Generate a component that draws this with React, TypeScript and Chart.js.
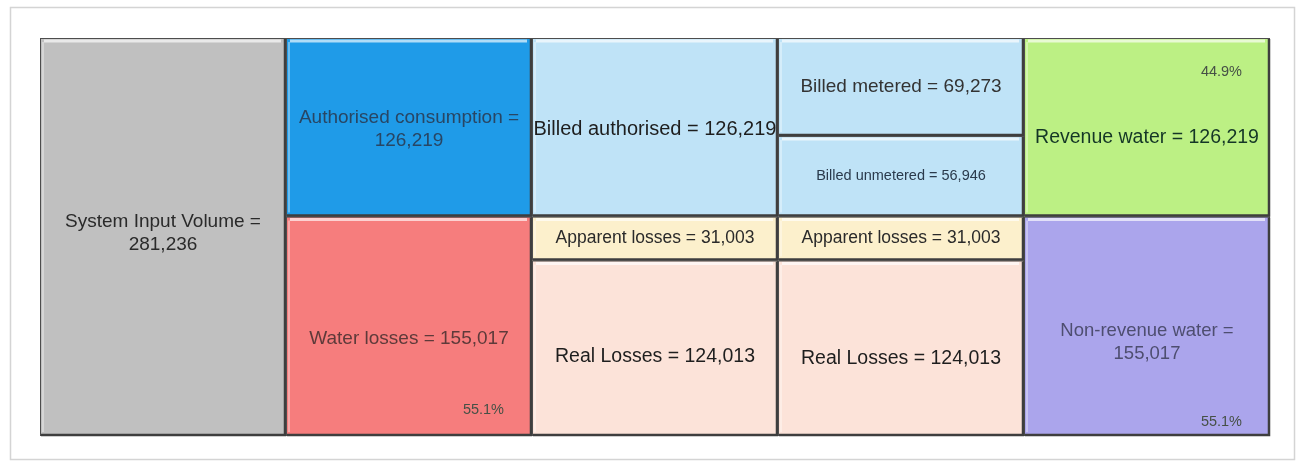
import React, { useEffect, useRef } from 'react';
import { Chart, registerables } from 'chart.js';

Chart.register(...registerables);

// ---- data ----
const categories = ['System input', 'Consumption / losses', 'Billing level 1', 'Billing level 2', 'Revenue'];
const TOTAL_INPUT = 281236;
const levelA: (number | null)[] = [281236, 126219, 126219, 69273, 126219];
const levelB: (number | null)[] = [null, 155017, 31003, 56946, 155017];
const levelC: (number | null)[] = [null, null, 124013, 31003, null];
const levelD: (number | null)[] = [null, null, null, 124013, null];

const labelsA = ['System Input Volume =\n281,236', 'Authorised consumption =\n126,219', 'Billed authorised = 126,219', 'Billed metered = 69,273', 'Revenue water = 126,219'];
const labelsB = ['', 'Water losses = 155,017', 'Apparent losses = 31,003', 'Billed unmetered = 56,946', 'Non-revenue water =\n155,017'];
const labelsC = ['', '', 'Real Losses = 124,013', 'Apparent losses = 31,003', ''];
const labelsD = ['', '', '', 'Real Losses = 124,013', ''];

const pctA = ['', '', '', '', '44.9%'];
const pctB = ['', '55.1%', '', '', '55.1%'];

// ---- styles ----
const colorsA = ['#c0c0c0', '#1f9be8', '#bfe3f7', '#bfe3f7', '#bcf084'];
const colorsB = ['#ffffff', '#f67d7d', '#fcf0cc', '#bfe3f7', '#aba5ec'];
const colorsC = ['#ffffff', '#ffffff', '#fce3d9', '#fcf0cc', '#ffffff'];
const colorsD = ['#ffffff', '#ffffff', '#ffffff', '#fce3d9', '#ffffff'];

const fontA = [19, 19, 20, 19, 19.5];
const fontB = [16, 19, 17.5, 14.5, 18.5];
const fontC = [16, 16, 19.5, 17.5, 16];
const fontD = [16, 16, 16, 19.5, 16];

const textA = ['#2a2a2a', '#284664', '#1e1e1e', '#333333', '#143626'];
const textB = ['#333333', '#5e3a3a', '#2a2a2a', '#2a3a4c', '#4e4e70'];
const textC = ['#333333', '#333333', '#1e1e1e', '#2a2a2a', '#333333'];
const textD = ['#333333', '#333333', '#333333', '#1e1e1e', '#333333'];

const shiftA = [-4, 2, 2, 0, 10];
const shiftB = [0, 12, 0, 0, 16];
const shiftC = [0, 0, 8, 0, 0];
const shiftD = [0, 0, 0, 10, 0];

const FONT = "Arial, 'Liberation Sans', sans-serif";

const boxPlugin = {
  id: 'boxPlugin',
  beforeDraw(chart: any) {
    const ctx = chart.ctx;
    ctx.save();
    ctx.fillStyle = '#ffffff';
    ctx.fillRect(0, 0, chart.width, chart.height);
    ctx.strokeStyle = '#d4d4d4';
    ctx.lineWidth = 1.5;
    ctx.strokeRect(10.5, 7.5, 1284, 452);
    ctx.restore();
  },
  afterDatasetsDraw(chart: any) {
    const ctx = chart.ctx;
    chart.data.datasets.forEach((ds: any, di: number) => {
      const meta = chart.getDatasetMeta(di);
      meta.data.forEach((el: any, i: number) => {
        const v = ds.data[i];
        if (v == null) return;
        const p = el.getProps(['x', 'y', 'base', 'width'], true);
        const top = Math.min(p.y, p.base);
        const bottom = Math.max(p.y, p.base);
        const left = p.x - p.width / 2;
        const right = p.x + p.width / 2;
        ctx.save();
        // bevel highlight
        ctx.strokeStyle = 'rgba(255,255,255,0.65)';
        ctx.lineWidth = 3;
        ctx.beginPath();
        ctx.moveTo(left + 4, top + 3);
        ctx.lineTo(right - 5, top + 3);
        ctx.stroke();
        ctx.strokeStyle = 'rgba(255,255,255,0.35)';
        ctx.lineWidth = 2;
        ctx.beginPath();
        ctx.moveTo(left + 3, top + 4);
        ctx.lineTo(left + 3, bottom - 4);
        ctx.stroke();
        // dark edges
        ctx.strokeStyle = '#4d4d4d';
        ctx.lineWidth = 1;
        ctx.strokeRect(left + 0.5, top + 0.5, right - left - 1, bottom - top - 1);
        ctx.strokeStyle = '#3e3e3e';
        ctx.lineWidth = 2.5;
        ctx.beginPath();
        ctx.moveTo(left + 1, bottom - 1);
        ctx.lineTo(right - 1, bottom - 1);
        ctx.lineTo(right - 1, top + 1);
        ctx.stroke();
        // label
        const label: string = ds.boxLabels[i];
        if (label) {
          const size = ds.boxFont[i];
          ctx.font = `${size}px ${FONT}`;
          ctx.fillStyle = ds.boxText[i];
          ctx.textAlign = 'center';
          ctx.textBaseline = 'middle';
          const lines = label.split('\n');
          const lh = size * 1.2;
          const cy = (top + bottom) / 2 + ds.boxShift[i];
          lines.forEach((ln, k) => {
            ctx.fillText(ln, p.x, cy + (k - (lines.length - 1) / 2) * lh);
          });
        }
        const pct: string = ds.boxPct[i];
        if (pct) {
          ctx.font = `14.5px ${FONT}`;
          ctx.fillStyle = '#465046';
          ctx.textAlign = 'right';
          ctx.textBaseline = 'middle';
          const py = ds.pctAtTop ? top + 34 : bottom - (i === 1 ? 26 : 14);
          ctx.fillText(pct, right - 28, py);
        }
        ctx.restore();
      });
    });
  },
};

export default function App() {
  const ref = useRef<HTMLCanvasElement | null>(null);
  useEffect(() => {
    if (!ref.current) return;
    const mk = (data: any, colors: string[], labels: string[], fonts: number[], texts: string[], shifts: number[], pct: string[], pctAtTop: boolean) => ({
      data,
      backgroundColor: colors,
      borderWidth: 0,
      barPercentage: 1,
      categoryPercentage: 1,
      boxLabels: labels,
      boxFont: fonts,
      boxText: texts,
      boxShift: shifts,
      boxPct: pct,
      pctAtTop,
    });
    const chart = new Chart(ref.current, {
      type: 'bar',
      data: {
        labels: categories,
        datasets: [
          mk(levelA, colorsA, labelsA, fontA, textA, shiftA, pctA, true),
          mk(levelB, colorsB, labelsB, fontB, textB, shiftB, pctB, false),
          mk(levelC, colorsC, labelsC, fontC, textC, shiftC, ['', '', '', '', ''], false),
          mk(levelD, colorsD, labelsD, fontD, textD, shiftD, ['', '', '', '', ''], false),
        ] as any,
      },
      options: {
        animation: false,
        responsive: true,
        maintainAspectRatio: false,
        layout: { padding: { left: 40, top: 38, right: 32, bottom: 34 } },
        plugins: { legend: { display: false }, tooltip: { enabled: false }, title: { display: false } },
        scales: {
          x: { stacked: true, display: false, grid: { display: false } },
          y: { stacked: true, display: false, reverse: true, min: 0, max: TOTAL_INPUT, grid: { display: false } },
        },
      },
      plugins: [boxPlugin],
    });
    return () => chart.destroy();
  }, []);
  return (
    <div style={{ position: 'fixed', left: 0, top: 0, width: 1302, height: 470, background: '#fff' }}>
      <canvas ref={ref} />
    </div>
  );
}
